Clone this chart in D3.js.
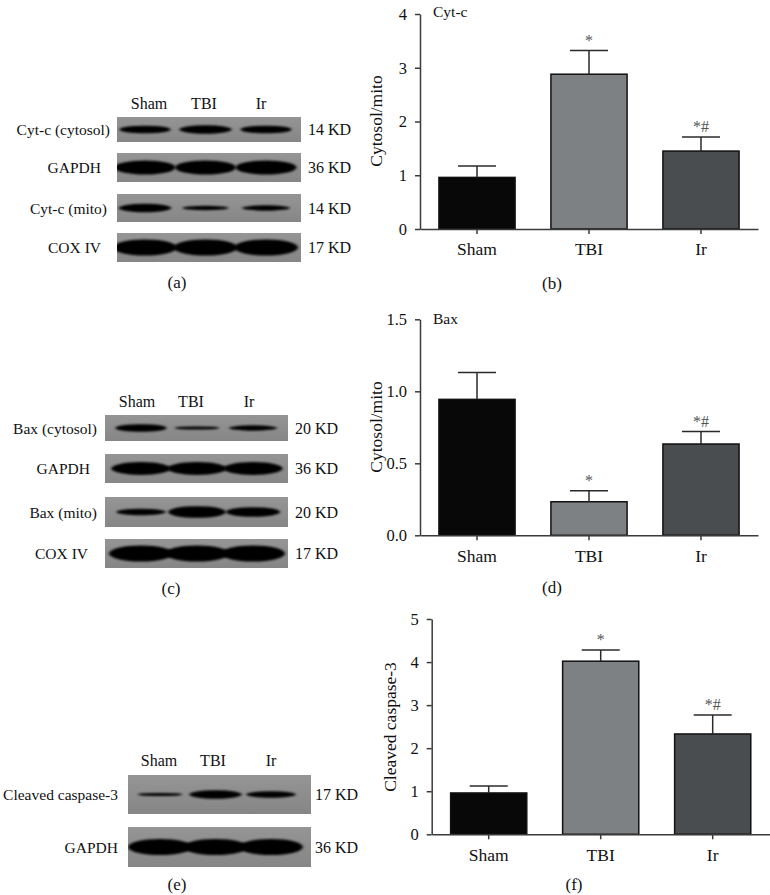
<!DOCTYPE html>
<html>
<head>
<meta charset="utf-8">
<script src="https://cdn.jsdelivr.net/npm/d3@7"></script>
<style>
  html, body { margin: 0; padding: 0; background: #fff; }
  svg { display: block; }
  text { font-family: "Liberation Serif", "Times New Roman", serif; fill: #111; }
</style>
</head>
<body>
<svg id="fig" width="770" height="895"></svg>
<script>
// ---------------- DATA ----------------
const groups = ["Sham", "TBI", "Ir"];

// (b) Cyt-c cytosol/mito
const cytcMean = [0.96, 2.88, 1.45];
const cytcErr  = [0.21, 0.44, 0.26];
const cytcSig  = ["", "*", "*#"];
const cytcTicks = [0, 1, 2, 3, 4];

// (d) Bax cytosol/mito
const baxMean = [0.944, 0.233, 0.634];
const baxErr  = [0.186, 0.077, 0.086];
const baxSig  = ["", "*", "*#"];
const baxTicks = [0, 0.5, 1.0, 1.5];

// (f) Cleaved caspase-3
const casp3Mean = [0.96, 4.02, 2.33];
const casp3Err  = [0.16, 0.26, 0.44];
const casp3Sig  = ["", "*", "*#"];
const casp3Ticks = [0, 1, 2, 3, 4, 5];

// Western blot band densities (relative, 0..1)
const blotA_rows = ["Cyt-c (cytosol)", "GAPDH", "Cyt-c (mito)", "COX IV"];
const blotA_kd   = ["14 KD", "36 KD", "14 KD", "17 KD"];
const blotA_dens = [[0.47, 0.53, 0.47], [0.87, 0.87, 0.87], [0.53, 0.27, 0.33], [1.0, 1.0, 1.0]];

const blotC_rows = ["Bax (cytosol)", "GAPDH", "Bax (mito)", "COX IV"];
const blotC_kd   = ["20 KD", "36 KD", "20 KD", "17 KD"];
const blotC_dens = [[0.47, 0.2, 0.33], [0.8, 0.8, 0.8], [0.4, 0.73, 0.6], [1.0, 1.0, 1.0]];

const blotE_rows = ["Cleaved caspase-3", "GAPDH"];
const blotE_kd   = ["17 KD", "36 KD"];
const blotE_dens = [[0.2, 0.53, 0.4], [1.0, 1.0, 1.0]];

const barColors = ["#080808", "#7e8184", "#4a4d50"];

// ---------------- DRAW ----------------
const svg = d3.select("#fig");
const defs = svg.append("defs");
const blur = defs.append("filter").attr("id", "blur").attr("x", "-20%").attr("y", "-50%").attr("width", "140%").attr("height", "200%");
blur.append("feGaussianBlur").attr("stdDeviation", "1.6 1.1");
const grad = defs.append("linearGradient").attr("id", "stripGrad").attr("x1", 0).attr("y1", 0).attr("x2", 0).attr("y2", 1);
grad.append("stop").attr("offset", "0%").attr("stop-color", "#959595");
grad.append("stop").attr("offset", "100%").attr("stop-color", "#868686");

const blotFont = "15.5px";
let clipId = 0;
function blot(cfg) {
  const g = svg.append("g");
  const lane = d3.scalePoint().domain(groups).range(cfg.laneRange);
  const thick = d3.scaleLinear().domain([0, 1]).range([0, 16]);
  const wid = d3.scaleLinear().domain([0, 1]).range([40, 64]);
  g.selectAll("text.lane").data(groups).join("text")
    .attr("x", (d, i) => cfg.labelX[i]).attr("y", cfg.labelY)
    .attr("text-anchor", "middle").attr("dominant-baseline", "central")
    .style("font-size", "16px").text(d => d);
  cfg.rows.forEach((r, ri) => {
    const [y0, y1] = cfg.stripY[ri];
    const cy = (y0 + y1) / 2;
    const id = "clip" + (clipId++);
    defs.append("clipPath").attr("id", id).append("rect")
      .attr("x", cfg.stripX[0]).attr("y", y0).attr("width", cfg.stripX[1] - cfg.stripX[0]).attr("height", y1 - y0);
    g.append("rect").attr("x", cfg.stripX[0]).attr("y", y0)
      .attr("width", cfg.stripX[1] - cfg.stripX[0]).attr("height", y1 - y0)
      .attr("fill", "url(#stripGrad)");
    const bg = g.append("g").attr("clip-path", `url(#${id})`);
    bg.selectAll("ellipse").data(cfg.dens[ri]).join("ellipse")
      .attr("cx", (d, i) => lane(groups[i]))
      .attr("cy", cy)
      .attr("rx", d => wid(d) / 2)
      .attr("ry", d => thick(d) / 2)
      .attr("fill", "#050505")
      .attr("filter", "url(#blur)");
    g.append("text").attr("x", cfg.nameX[ri]).attr("y", cy)
      .attr("text-anchor", "end").attr("dominant-baseline", "central")
      .style("font-size", blotFont).text(r);
    g.append("text").attr("x", cfg.kdX).attr("y", cy)
      .attr("text-anchor", "start").attr("dominant-baseline", "central")
      .style("font-size", "16px").text(cfg.kd[ri]);
  });
  g.append("text").attr("x", cfg.panel[1]).attr("y", cfg.panel[2])
    .attr("text-anchor", "middle").attr("dominant-baseline", "central")
    .style("font-size", "17px").text(cfg.panel[0]);
}

function barChart(cfg) {
  const g = svg.append("g");
  const y = d3.scaleLinear().domain([0, d3.max(cfg.ticks)]).range([cfg.yBottom, cfg.yTop]);
  const x = d3.scaleBand().domain(groups).range([cfg.axisX, cfg.axisX + 338])
    .paddingInner(0.32).paddingOuter(0.169);
  const axisColor = "#3a3a3a";

  const ya = g.append("g").attr("transform", `translate(${cfg.axisX},0)`)
    .call(d3.axisLeft(y).tickValues(cfg.ticks).tickFormat(cfg.fmt).tickSize(5).tickSizeOuter(0).tickPadding(8));
  ya.select(".domain").attr("stroke", axisColor).attr("stroke-width", 1.5);
  ya.selectAll(".tick line").attr("stroke", axisColor).attr("stroke-width", 1.5);
  ya.selectAll(".tick text").style("font-size", "16.5px").style("font-family", "Liberation Serif, serif").attr("fill", "#111");

  g.selectAll("rect.bar").data(cfg.mean).join("rect")
    .attr("x", (d, i) => x(groups[i])).attr("width", x.bandwidth())
    .attr("y", d => y(d)).attr("height", d => cfg.yBottom - y(d))
    .attr("fill", (d, i) => barColors[i]).attr("stroke", "#111").attr("stroke-width", 1.5);

  const eg = g.append("g").attr("stroke", "#2a2a2a").attr("stroke-width", 1.5);
  cfg.mean.forEach((m, i) => {
    const cx = x(groups[i]) + x.bandwidth() / 2;
    const top = y(m + cfg.err[i]);
    eg.append("line").attr("x1", cx).attr("x2", cx).attr("y1", y(m)).attr("y2", top);
    eg.append("line").attr("x1", cx - 19).attr("x2", cx + 19).attr("y1", top).attr("y2", top);
    if (cfg.sig[i]) {
      g.append("text").attr("x", cx).attr("y", top - 5).attr("text-anchor", "middle")
        .style("font-size", "16px").style("fill", "#555").text(cfg.sig[i]);
    }
  });

  const xa = g.append("g").attr("transform", `translate(0,${cfg.yBottom})`)
    .call(d3.axisBottom(x).tickSize(5).tickSizeOuter(0).tickPadding(9));
  xa.select(".domain").attr("stroke", axisColor).attr("stroke-width", 1.5);
  xa.selectAll(".tick line").attr("stroke", axisColor).attr("stroke-width", 1.5);
  xa.selectAll(".tick text").style("font-size", "17.5px").style("font-family", "Liberation Serif, serif").attr("fill", "#111");

  g.append("text").attr("transform", `translate(${cfg.yLabelPos[0]},${cfg.yLabelPos[1]}) rotate(-90)`)
    .attr("text-anchor", "middle").attr("dominant-baseline", "central")
    .style("font-size", "17.5px").text(cfg.yLabel);
  if (cfg.title) {
    g.append("text").attr("x", cfg.axisX + 13).attr("y", cfg.titleY)
      .attr("dominant-baseline", "central").style("font-size", "15.5px").text(cfg.title);
  }
  g.append("text").attr("x", cfg.panel[1]).attr("y", cfg.panel[2])
    .attr("text-anchor", "middle").attr("dominant-baseline", "central")
    .style("font-size", "17px").text(cfg.panel[0]);
}

// Panel (a)
blot({
  rows: blotA_rows, kd: blotA_kd, dens: blotA_dens,
  laneRange: [145, 266], labelX: [149, 204, 261], labelY: 103,
  stripX: [117, 301], stripY: [[117, 142], [153, 182], [194, 222], [233, 262]],
  nameX: [110, 101, 107, 101], kdX: 308, panel: ["(a)", 177, 282]
});
// Panel (c)
blot({
  rows: blotC_rows, kd: blotC_kd, dens: blotC_dens,
  laneRange: [141, 253], labelX: [137, 191, 249], labelY: 401,
  stripX: [105, 288], stripY: [[415, 441], [454, 483], [497, 527], [539, 568]],
  nameX: [97, 90, 97, 88], kdX: 295, panel: ["(c)", 171, 588]
});
// Panel (e)
blot({
  rows: blotE_rows, kd: blotE_kd, dens: blotE_dens,
  laneRange: [160, 271], labelX: [159, 213, 271], labelY: 760,
  stripX: [128, 311], stripY: [[775, 814], [827, 867]],
  nameX: [118, 118], kdX: 315, panel: ["(e)", 177, 884]
});

// Panel (b)
barChart({
  mean: cytcMean, err: cytcErr, sig: cytcSig, ticks: cytcTicks, fmt: d3.format("d"),
  axisX: 420, yTop: 14, yBottom: 229, yLabel: "Cytosol/mito", yLabelPos: [376, 121],
  title: "Cyt-c", titleY: 11, panel: ["(b)", 552, 283]
});
// Panel (d)
barChart({
  mean: baxMean, err: baxErr, sig: baxSig, ticks: baxTicks, fmt: d3.format(".1f"),
  axisX: 420, yTop: 319.3, yBottom: 535.3, yLabel: "Cytosol/mito", yLabelPos: [376, 427],
  title: "Bax", titleY: 318, panel: ["(d)", 552, 587]
});
// Panel (f)
barChart({
  mean: casp3Mean, err: casp3Err, sig: casp3Sig, ticks: casp3Ticks, fmt: d3.format("d"),
  axisX: 431.7, yTop: 619, yBottom: 834.3, yLabel: "Cleaved caspase-3", yLabelPos: [390, 727],
  title: null, panel: ["(f)", 574, 884]
});
</script>
</body>
</html>
